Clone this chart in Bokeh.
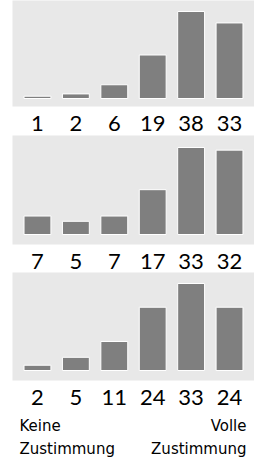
from bokeh.plotting import figure
from bokeh.layouts import column
from bokeh.models import Range1d, FixedTicker, Label, ColumnDataSource
from bokeh.embed import file_html
from bokeh.resources import INLINE

# ---- data ----
scale_points = [1, 2, 3, 4, 5, 6]
values_a = [1, 2, 6, 19, 38, 33]
values_b = [7, 5, 7, 17, 33, 32]
values_c = [2, 5, 11, 24, 33, 24]
left_caption = ["Keine", "Zustimmung"]
right_caption = ["Volle", "Zustimmung"]

BG = "#e8e8e8"
BAR = "#7f7f7f"
NUM_FONT = "Lato"
CAP_FONT = "DejaVu Sans"


def base_fig(frame_h, bottom_border, y_range):
    p = figure(frame_width=242, frame_height=frame_h,
               output_backend="svg", toolbar_location=None,
               x_range=Range1d(0.35, 6.65), y_range=y_range,
               y_axis_location=None,
               min_border_left=12, min_border_right=0,
               min_border_top=0, min_border_bottom=bottom_border)
    p.border_fill_color = "white"
    p.outline_line_color = None
    p.grid.visible = False
    return p


def panel(vals, frame_h, base_px, bar_px, bottom_border):
    k = bar_px / max(vals)
    p = base_fig(frame_h, bottom_border,
                 Range1d(-base_px / k, (frame_h - base_px) / k))
    p.background_fill_color = BG
    src = ColumnDataSource(dict(x=scale_points, top=vals))
    p.vbar(x="x", top="top", bottom=0, width=0.7, source=src,
           fill_color=BAR, line_color="white", line_width=1)
    ax = p.xaxis[0]
    ax.ticker = FixedTicker(ticks=scale_points)
    ax.major_label_overrides = {pt: str(v) for pt, v in zip(scale_points, vals)}
    ax.axis_line_color = None
    ax.major_tick_line_color = None
    ax.minor_tick_line_color = None
    ax.major_tick_out = 0
    ax.major_tick_in = 0
    ax.major_label_standoff = 9
    ax.major_label_text_font = NUM_FONT
    ax.major_label_text_font_size = "22px"
    ax.major_label_text_color = "black"
    return p


p1 = panel(values_a, 106, 8, 87, 29)
p2 = panel(values_b, 109, 10, 87, 28)
p3 = panel(values_c, 108, 10, 87, 28)

# caption strip below the last panel, frame aligned with the panels
cap = base_fig(49, 0, Range1d(0, 1))
cap.xaxis.visible = False
cap.background_fill_color = "white"

for txt, yb in zip(left_caption, [32, 9]):
    cap.add_layout(Label(x=7, y=yb, x_units="screen", y_units="screen", text=txt,
                         text_font=CAP_FONT, text_font_size="15px", text_color="black",
                         text_align="left", text_baseline="alphabetic"))
for txt, yb in zip(right_caption, [32, 9]):
    cap.add_layout(Label(x=234, y=yb, x_units="screen", y_units="screen", text=txt,
                         text_font=CAP_FONT, text_font_size="15px", text_color="black",
                         text_align="right", text_baseline="alphabetic"))

layout = column(p1, p2, p3, cap, spacing=0)
open("out.html", "w").write(file_html(layout, INLINE))
